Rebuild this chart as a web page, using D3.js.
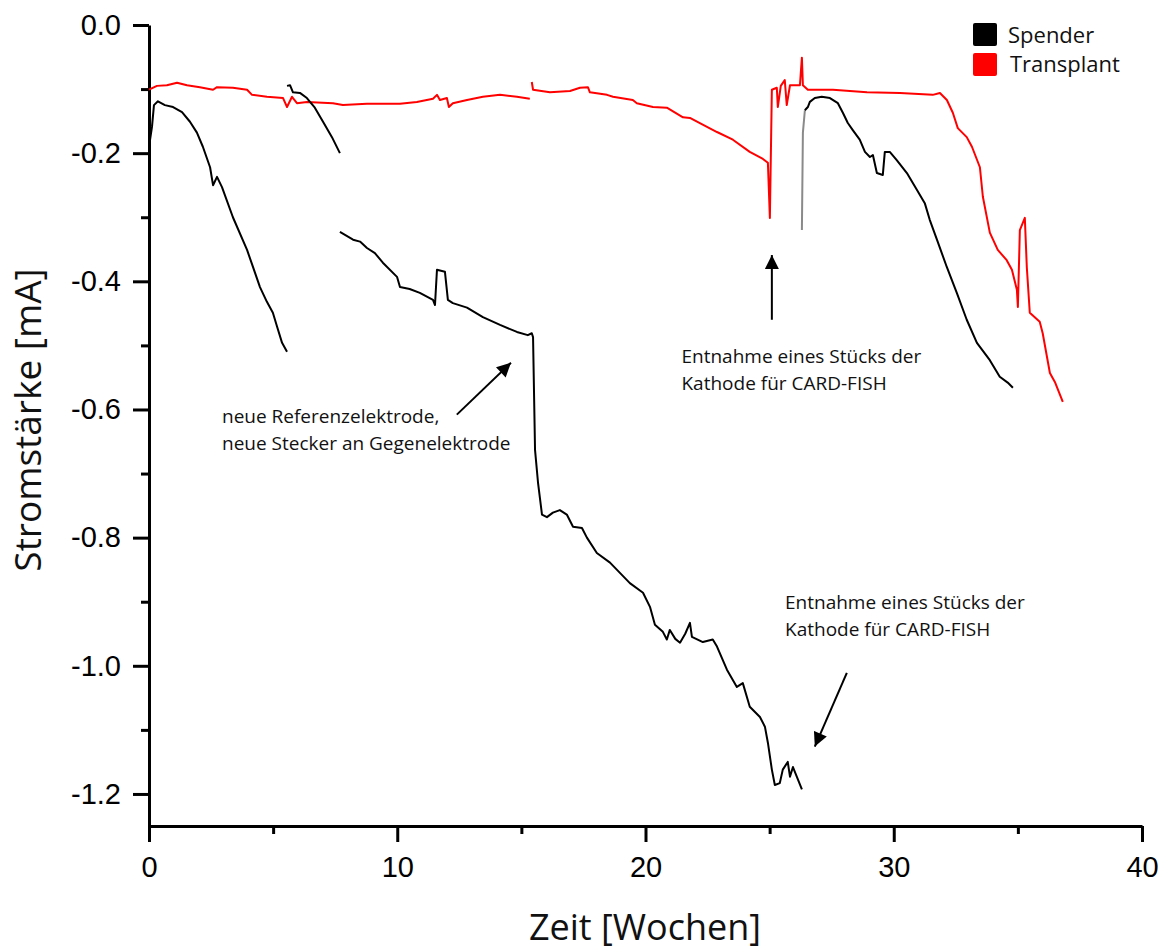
<!DOCTYPE html>
<html lang="de">
<head>
  <meta charset="UTF-8">
  <title>Stromstärke</title>
  <script src="https://cdn.jsdelivr.net/npm/d3@7"></script>
  <style>
    body { margin: 0; background: #fff; }
    .tick text { font-family: "Liberation Sans", Arial, sans-serif; }
    .note { font-family: "Open Sans", sans-serif; font-size: 19px; fill: #111; }
  </style>
</head>
<body>
<svg class="chart"></svg>
<script>
  var svgWidth = 1166;
  var svgHeight = 952;

  // Spender (black), [Woche, mA]
  var spender1 = [[0,-0.190],[0.12,-0.159],[0.20,-0.125],[0.36,-0.119],[0.64,-0.125],[0.97,-0.128],
    [1.33,-0.136],[1.65,-0.151],[1.93,-0.168],[2.17,-0.190],[2.46,-0.222],[2.58,-0.250],[2.74,-0.237],
    [2.94,-0.253],[3.38,-0.300],[3.95,-0.351],[4.47,-0.409],[4.75,-0.432],[4.99,-0.449],[5.16,-0.471],
    [5.36,-0.496],[5.56,-0.510]];
  var spender2 = [[5.56,-0.095],[5.68,-0.094],[5.80,-0.105],[6.08,-0.106],[6.36,-0.114],[6.68,-0.129],
    [7.01,-0.151],[7.37,-0.175],[7.69,-0.200]];
  var spender3 = [[7.69,-0.323],[8.22,-0.335],[8.50,-0.338],[8.78,-0.348],[9.10,-0.356],[9.42,-0.371],
    [9.99,-0.393],[10.11,-0.409],[10.50,-0.412],[10.91,-0.418],[11.44,-0.429],[11.52,-0.437],[11.60,-0.382],
    [11.92,-0.385],[12.04,-0.429],[12.24,-0.434],[12.81,-0.441],[13.45,-0.456],[14.14,-0.468],[14.82,-0.479],
    [15.26,-0.484],[15.42,-0.481],[15.47,-0.487],[15.55,-0.663],[15.67,-0.714],[15.83,-0.764],[16.03,-0.768],
    [16.27,-0.761],[16.55,-0.757],[16.83,-0.764],[17.08,-0.783],[17.44,-0.785],[17.64,-0.800],[18.04,-0.824],
    [18.57,-0.839],[18.97,-0.855],[19.37,-0.871],[19.90,-0.886],[20.18,-0.908],[20.38,-0.936],[20.70,-0.947],
    [20.86,-0.959],[20.98,-0.944],[21.20,-0.958],[21.39,-0.964],[21.60,-0.950],[21.79,-0.933],[21.87,-0.955],
    [22.31,-0.963],[22.71,-0.959],[22.88,-0.970],[23.28,-1.006],[23.68,-1.033],[23.92,-1.027],[24.20,-1.064],
    [24.61,-1.080],[24.81,-1.095],[24.93,-1.120],[25.09,-1.162],[25.21,-1.186],[25.41,-1.183],[25.53,-1.162],
    [25.73,-1.150],[25.82,-1.173],[25.94,-1.158],[26.30,-1.193]];
  var spenderRise = [[26.30,-0.320],[26.34,-0.168],[26.42,-0.133]];
  var spender4 = [[26.42,-0.133],[26.54,-0.128],[26.62,-0.120],[26.82,-0.114],[27.10,-0.112],[27.43,-0.114],
    [27.75,-0.122],[27.95,-0.137],[28.15,-0.153],[28.35,-0.164],[28.63,-0.179],[28.84,-0.198],[29.04,-0.206],
    [29.16,-0.203],[29.32,-0.231],[29.56,-0.234],[29.64,-0.198],[29.84,-0.198],[30.12,-0.211],[30.53,-0.231],
    [30.93,-0.257],[31.25,-0.278],[31.45,-0.304],[31.74,-0.335],[32.14,-0.378],[32.54,-0.418],[32.94,-0.460],
    [33.35,-0.496],[33.87,-0.523],[34.27,-0.549],[34.59,-0.558],[34.80,-0.566]];

  // Transplant (red)
  var transplant1 = [[0,-0.101],[0.32,-0.095],[0.72,-0.094],[1.13,-0.090],[1.53,-0.094],[2.05,-0.097],
    [2.58,-0.101],[2.74,-0.097],[3.38,-0.098],[3.95,-0.101],[4.15,-0.109],[4.75,-0.112],[5.40,-0.114],
    [5.56,-0.128],[5.76,-0.112],[5.96,-0.122],[6.36,-0.120],[7.41,-0.122],[7.81,-0.125],[8.78,-0.123],
    [10.11,-0.123],[10.79,-0.120],[11.44,-0.115],[11.60,-0.109],[11.72,-0.117],[12.00,-0.114],[12.08,-0.128],
    [12.24,-0.122],[12.81,-0.117],[13.45,-0.112],[14.14,-0.109],[14.82,-0.112],[15.34,-0.115]];
  var transplant2 = [[15.42,-0.089],[15.47,-0.101],[16.15,-0.105],[16.96,-0.103],[17.36,-0.098],[17.68,-0.097],
    [17.76,-0.105],[18.45,-0.109],[18.69,-0.112],[19.49,-0.117],[19.65,-0.122],[20.30,-0.128],[20.86,-0.129],
    [21.51,-0.144],[21.79,-0.145],[22.19,-0.153],[22.88,-0.167],[23.52,-0.179],[24.20,-0.198],[24.73,-0.209],
    [24.93,-0.215],[25.01,-0.301],[25.09,-0.101],[25.29,-0.098],[25.33,-0.128],[25.45,-0.095],[25.61,-0.086],
    [25.69,-0.125],[25.82,-0.094],[26.22,-0.094],[26.30,-0.051],[26.34,-0.094],[26.54,-0.101],[27.55,-0.101],
    [28.92,-0.105],[30.25,-0.106],[31.57,-0.109],[31.86,-0.106],[32.14,-0.117],[32.38,-0.137],[32.58,-0.161],
    [32.94,-0.175],[33.15,-0.190],[33.47,-0.222],[33.59,-0.268],[33.87,-0.324],[34.19,-0.351],[34.55,-0.367],
    [34.76,-0.382],[34.96,-0.413],[35.00,-0.440],[35.08,-0.320],[35.28,-0.301],[35.36,-0.378],[35.48,-0.449],
    [35.88,-0.463],[36.00,-0.481],[36.29,-0.543],[36.49,-0.557],[36.81,-0.588]];

  var xTicks = [0, 10, 20, 30, 40];
  var yTicks = [0, -0.2, -0.4, -0.6, -0.8, -1.0, -1.2];
  var legendNames = ['Spender', 'Transplant'];
  var legendColors = ['#000000', '#ff0000'];

  var notes = [
    {x: 2.94, y: -0.621, lines: ['neue Referenzelektrode,', 'neue Stecker an Gegenelektrode']},
    {x: 21.45, y: -0.527, lines: ['Entnahme eines Stücks der', 'Kathode für CARD-FISH']},
    {x: 25.62, y: -0.911, lines: ['Entnahme eines Stücks der', 'Kathode für CARD-FISH']}
  ];
  var arrows = [
    [[12.40, -0.608], [14.58, -0.527]],
    [[25.09, -0.460], [25.09, -0.359]],
    [[28.11, -1.011], [26.82, -1.126]]
  ];

  var xScale = d3.scaleLinear().domain([0, 40]).range([149, 1142]);
  var yScale = d3.scaleLinear().domain([-1.25, 0]).range([826, 25]);

  var svg = d3.select('.chart')
  .attr('width', svgWidth)
  .attr('height', svgHeight);

  svg.append('defs').append('marker')
  .attr('id', 'head')
  .attr('viewBox', '0 0 10 10')
  .attr('refX', 10).attr('refY', 5)
  .attr('markerWidth', 15).attr('markerHeight', 14)
  .attr('markerUnits', 'userSpaceOnUse')
  .attr('orient', 'auto')
  .append('path')
  .attr('d', 'M0,0 L10,5 L0,10 z')
  .attr('fill', '#000');

  // minor ticks
  svg.append('g')
  .attr('class', 'minor')
  .attr('transform', 'translate(0,826)')
  .call(d3.axisBottom(xScale).tickValues([5, 15, 25, 35]).tickSize(8).tickFormat(''))
  .call(function(g) { g.select('.domain').remove(); });
  svg.append('g')
  .attr('class', 'minor')
  .attr('transform', 'translate(149,0)')
  .call(d3.axisLeft(yScale).tickValues([-0.1, -0.3, -0.5, -0.7, -0.9, -1.1]).tickSize(8).tickFormat(''))
  .call(function(g) { g.select('.domain').remove(); });

  var xAxis = svg.append('g')
  .attr('transform', 'translate(0,826)')
  .call(d3.axisBottom(xScale).tickValues(xTicks).tickSize(16).tickSizeOuter(0).tickPadding(14));
  xAxis.selectAll('text').attr('font-size', 29).attr('fill', '#000');

  var yAxis = svg.append('g')
  .attr('transform', 'translate(149,0)')
  .call(d3.axisLeft(yScale).tickValues(yTicks).tickSize(16).tickSizeOuter(0).tickPadding(12)
    .tickFormat(d3.format('.1f')));
  yAxis.selectAll('text').attr('font-size', 29).attr('fill', '#000')
  .text(function(d) { return d3.format('.1f')(d).replace('−', '-'); });

  svg.selectAll('.domain, .tick line').attr('stroke', '#000').attr('stroke-width', 3);

  var line = d3.line()
  .x(function(d) { return xScale(d[0]); })
  .y(function(d) { return yScale(d[1]); });

  var series = [
    {data: transplant1, color: '#ff0000'},
    {data: transplant2, color: '#ff0000'},
    {data: spender1, color: '#000'},
    {data: spender2, color: '#000'},
    {data: spender3, color: '#000'},
    {data: spenderRise, color: '#8a8a8a'},
    {data: spender4, color: '#000'}
  ];

  svg.append('g').selectAll('path')
  .data(series)
  .enter()
  .append('path')
  .attr('d', function(d) { return line(d.data); })
  .attr('fill', 'none')
  .attr('stroke', function(d) { return d.color; })
  .attr('stroke-width', 2)
  .attr('stroke-linejoin', 'round');

  // annotations
  svg.append('g').selectAll('line')
  .data(arrows)
  .enter()
  .append('line')
  .attr('x1', function(d) { return xScale(d[0][0]); })
  .attr('y1', function(d) { return yScale(d[0][1]); })
  .attr('x2', function(d) { return xScale(d[1][0]); })
  .attr('y2', function(d) { return yScale(d[1][1]); })
  .attr('stroke', '#000')
  .attr('stroke-width', 2)
  .attr('marker-end', 'url(#head)');

  var note = svg.append('g').selectAll('text')
  .data(notes)
  .enter()
  .append('text')
  .attr('class', 'note')
  .attr('x', function(d) { return xScale(d.x); })
  .attr('y', function(d) { return yScale(d.y); });
  note.selectAll('tspan')
  .data(function(d) { return d.lines.map(function(l) { return {t: l, x: d.x}; }); })
  .enter()
  .append('tspan')
  .attr('x', function(d) { return xScale(d.x); })
  .attr('dy', function(d, i) { return i === 0 ? 0 : 27; })
  .text(function(d) { return d.t; });

  // legend
  var legend = svg.append('g').attr('transform', 'translate(973,23)');
  legend.selectAll('rect')
  .data(legendNames)
  .enter()
  .append('rect')
  .attr('x', 0)
  .attr('y', function(d, i) { return i * 30; })
  .attr('width', 24).attr('height', 23)
  .attr('rx', 2)
  .attr('fill', function(d, i) { return legendColors[i]; });
  legend.selectAll('text')
  .data(legendNames)
  .enter()
  .append('text')
  .attr('x', function(d, i) { return i === 0 ? 35 : 37; })
  .attr('y', function(d, i) { return 20 + i * 29; })
  .attr('font-family', '"Open Sans", sans-serif')
  .attr('font-size', 22)
  .attr('fill', '#111')
  .text(function(d) { return d; });

  // axis titles
  svg.append('text')
  .attr('x', 645).attr('y', 940)
  .attr('text-anchor', 'middle')
  .attr('font-family', '"Open Sans", sans-serif')
  .attr('font-size', 36)
  .attr('fill', '#111')
  .text('Zeit [Wochen]');
  svg.append('text')
  .attr('transform', 'translate(41,420) rotate(-90)')
  .attr('text-anchor', 'middle')
  .attr('font-family', '"Open Sans", sans-serif')
  .attr('font-size', 37)
  .attr('fill', '#111')
  .text('Stromstärke [mA]');
</script>
</body>
</html>
